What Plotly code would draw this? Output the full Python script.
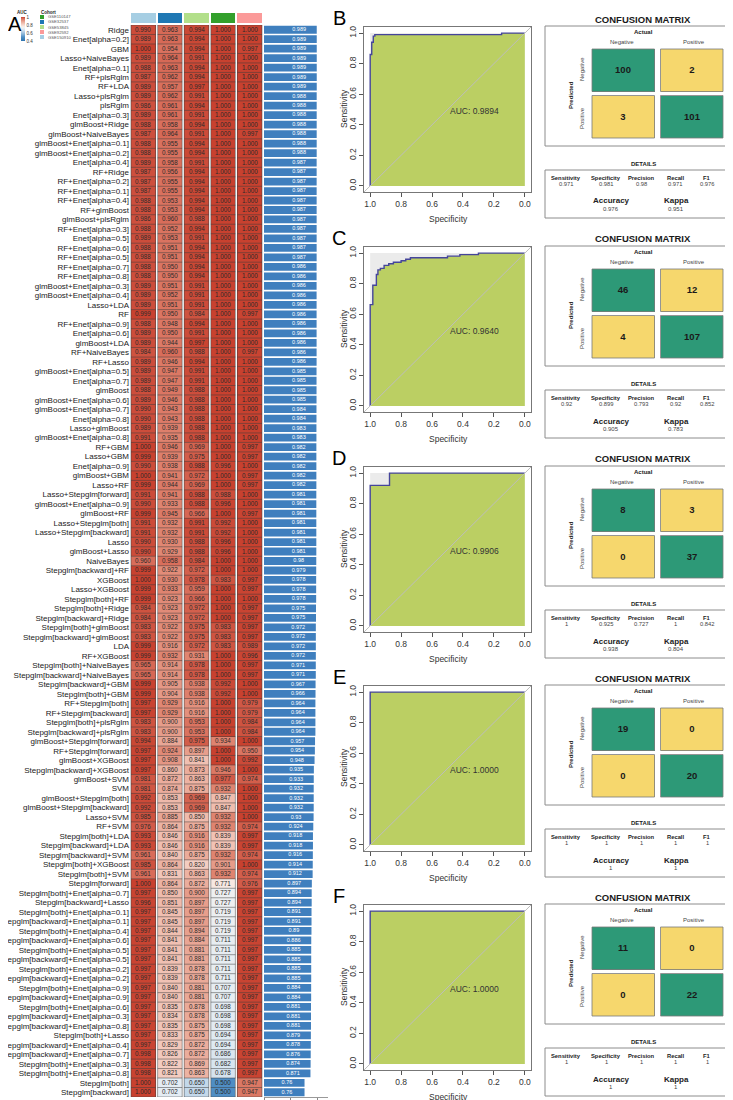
import plotly.graph_objects as go

W, H = 733, 1100


def px_x(v):
    return v / W


def px_y(v):
    return 1 - v / H


# ---------------- panel A data ----------------
cohort_order = ["GSE150910", "GSE32537", "GSE53845", "GSE110147", "GSE92592"]
cohort_colors = ["#A6CEE3", "#1F78B4", "#B2DF8A", "#33A02C", "#FB9A99"]
legend_cohorts = ["GSE110147", "GSE32537", "GSE53845", "GSE92592", "GSE150910"]

models = [
    "Ridge", "Enet[alpha=0.2]", "GBM", "Lasso+NaiveBayes", "Enet[alpha=0.1]", "RF+plsRglm", "RF+LDA", "Lasso+plsRglm", "plsRglm", "Enet[alpha=0.3]",
    "glmBoost+Ridge", "glmBoost+NaiveBayes", "glmBoost+Enet[alpha=0.1]", "glmBoost+Enet[alpha=0.2]", "Enet[alpha=0.4]", "RF+Ridge", "RF+Enet[alpha=0.2]", "RF+Enet[alpha=0.1]", "RF+Enet[alpha=0.4]", "RF+glmBoost",
    "glmBoost+plsRglm", "RF+Enet[alpha=0.3]", "Enet[alpha=0.5]", "RF+Enet[alpha=0.6]", "RF+Enet[alpha=0.5]", "RF+Enet[alpha=0.7]", "RF+Enet[alpha=0.8]", "glmBoost+Enet[alpha=0.3]", "glmBoost+Enet[alpha=0.4]", "Lasso+LDA",
    "RF", "RF+Enet[alpha=0.9]", "Enet[alpha=0.6]", "glmBoost+LDA", "RF+NaiveBayes", "RF+Lasso", "glmBoost+Enet[alpha=0.5]", "Enet[alpha=0.7]", "glmBoost", "glmBoost+Enet[alpha=0.6]",
    "glmBoost+Enet[alpha=0.7]", "Enet[alpha=0.8]", "Lasso+glmBoost", "glmBoost+Enet[alpha=0.8]", "RF+GBM", "Lasso+GBM", "Enet[alpha=0.9]", "glmBoost+GBM", "Lasso+RF", "Lasso+Stepglm[forward]",
    "glmBoost+Enet[alpha=0.9]", "glmBoost+RF", "Lasso+Stepglm[both]", "Lasso+Stepglm[backward]", "Lasso", "glmBoost+Lasso", "NaiveBayes", "Stepglm[backward]+RF", "XGBoost", "Lasso+XGBoost",
    "Stepglm[both]+RF", "Stepglm[both]+Ridge", "Stepglm[backward]+Ridge", "Stepglm[both]+glmBoost", "Stepglm[backward]+glmBoost", "LDA", "RF+XGBoost", "Stepglm[both]+NaiveBayes", "Stepglm[backward]+NaiveBayes", "Stepglm[backward]+GBM",
    "Stepglm[both]+GBM", "RF+Stepglm[both]", "RF+Stepglm[backward]", "Stepglm[both]+plsRglm", "Stepglm[backward]+plsRglm", "glmBoost+Stepglm[forward]", "RF+Stepglm[forward]", "glmBoost+XGBoost", "Stepglm[backward]+XGBoost", "glmBoost+SVM",
    "SVM", "glmBoost+Stepglm[both]", "glmBoost+Stepglm[backward]", "Lasso+SVM", "RF+SVM", "Stepglm[both]+LDA", "Stepglm[backward]+LDA", "Stepglm[backward]+SVM", "Stepglm[both]+XGBoost", "Stepglm[both]+SVM",
    "Stepglm[forward]", "Stepglm[both]+Enet[alpha=0.7]", "Stepglm[backward]+Lasso", "Stepglm[both]+Enet[alpha=0.1]", "Stepglm[backward]+Enet[alpha=0.1]", "Stepglm[both]+Enet[alpha=0.4]", "Stepglm[backward]+Enet[alpha=0.6]", "Stepglm[both]+Enet[alpha=0.5]", "Stepglm[backward]+Enet[alpha=0.5]", "Stepglm[both]+Enet[alpha=0.2]",
    "Stepglm[backward]+Enet[alpha=0.2]", "Stepglm[both]+Enet[alpha=0.9]", "Stepglm[backward]+Enet[alpha=0.9]", "Stepglm[both]+Enet[alpha=0.6]", "Stepglm[backward]+Enet[alpha=0.3]", "Stepglm[backward]+Enet[alpha=0.8]", "Stepglm[both]+Lasso", "Stepglm[backward]+Enet[alpha=0.4]", "Stepglm[backward]+Enet[alpha=0.7]", "Stepglm[both]+Enet[alpha=0.3]",
    "Stepglm[both]+Enet[alpha=0.8]", "Stepglm[both]", "Stepglm[backward]",
]

auc_gse150910 = [
    0.990, 0.989, 1.000, 0.989, 0.988, 0.987, 0.989, 0.989, 0.986, 0.989,
    0.988, 0.987, 0.988, 0.988, 0.989, 0.987, 0.987, 0.987, 0.988, 0.988,
    0.986, 0.988, 0.989, 0.988, 0.988, 0.988, 0.988, 0.989, 0.989, 0.989,
    0.999, 0.988, 0.989, 0.989, 0.984, 0.989, 0.989, 0.989, 0.988, 0.989,
    0.990, 0.990, 0.989, 0.991, 1.000, 0.999, 0.990, 1.000, 0.999, 0.991,
    0.990, 0.999, 0.991, 0.991, 0.990, 0.990, 0.960, 0.999, 1.000, 0.999,
    0.999, 0.984, 0.984, 0.983, 0.983, 0.999, 0.999, 0.965, 0.965, 0.999,
    0.999, 0.997, 0.997, 0.983, 0.983, 0.994, 0.997, 0.997, 0.997, 0.981,
    0.981, 0.992, 0.992, 0.985, 0.976, 0.993, 0.993, 0.961, 0.985, 0.961,
    1.000, 0.997, 0.996, 0.997, 0.997, 0.997, 0.997, 0.997, 0.997, 0.997,
    0.997, 0.997, 0.997, 0.997, 0.997, 0.997, 0.997, 0.997, 0.998, 0.998,
    0.998, 1.000, 1.000,
]
auc_gse32537 = [
    0.963, 0.963, 0.954, 0.964, 0.963, 0.962, 0.957, 0.962, 0.961, 0.961,
    0.958, 0.964, 0.955, 0.955, 0.958, 0.956, 0.955, 0.955, 0.953, 0.953,
    0.960, 0.952, 0.953, 0.951, 0.951, 0.950, 0.950, 0.951, 0.952, 0.951,
    0.950, 0.948, 0.950, 0.944, 0.960, 0.946, 0.947, 0.947, 0.949, 0.946,
    0.943, 0.943, 0.939, 0.935, 0.946, 0.939, 0.938, 0.941, 0.944, 0.941,
    0.933, 0.945, 0.932, 0.932, 0.930, 0.929, 0.958, 0.922, 0.930, 0.933,
    0.923, 0.923, 0.923, 0.922, 0.922, 0.916, 0.932, 0.914, 0.914, 0.905,
    0.904, 0.929, 0.929, 0.900, 0.900, 0.884, 0.924, 0.908, 0.860, 0.872,
    0.874, 0.853, 0.853, 0.885, 0.864, 0.846, 0.846, 0.840, 0.864, 0.831,
    0.864, 0.850, 0.851, 0.845, 0.845, 0.844, 0.841, 0.841, 0.841, 0.839,
    0.839, 0.840, 0.840, 0.835, 0.834, 0.835, 0.833, 0.829, 0.826, 0.822,
    0.821, 0.702, 0.702,
]
auc_gse53845 = [
    0.994, 0.994, 0.994, 0.991, 0.994, 0.994, 0.997, 0.991, 0.994, 0.991,
    0.994, 0.991, 0.994, 0.994, 0.991, 0.994, 0.994, 0.994, 0.994, 0.994,
    0.988, 0.994, 0.991, 0.994, 0.994, 0.994, 0.994, 0.991, 0.991, 0.991,
    0.984, 0.994, 0.991, 0.997, 0.988, 0.994, 0.991, 0.991, 0.988, 0.988,
    0.988, 0.988, 0.988, 0.988, 0.969, 0.975, 0.988, 0.972, 0.969, 0.988,
    0.988, 0.966, 0.991, 0.991, 0.988, 0.988, 0.984, 0.972, 0.978, 0.959,
    0.966, 0.972, 0.972, 0.975, 0.975, 0.972, 0.931, 0.978, 0.978, 0.938,
    0.938, 0.916, 0.916, 0.953, 0.953, 0.975, 0.897, 0.841, 0.873, 0.863,
    0.875, 0.969, 0.969, 0.850, 0.875, 0.916, 0.916, 0.875, 0.820, 0.863,
    0.872, 0.900, 0.897, 0.897, 0.897, 0.894, 0.884, 0.881, 0.881, 0.878,
    0.878, 0.881, 0.881, 0.878, 0.878, 0.875, 0.875, 0.872, 0.872, 0.869,
    0.863, 0.650, 0.650,
]
auc_gse110147 = [
    1.000, 1.000, 1.000, 1.000, 1.000, 1.000, 1.000, 1.000, 1.000, 1.000,
    1.000, 1.000, 1.000, 1.000, 1.000, 1.000, 1.000, 1.000, 1.000, 1.000,
    1.000, 1.000, 1.000, 1.000, 1.000, 1.000, 1.000, 1.000, 1.000, 1.000,
    1.000, 1.000, 1.000, 1.000, 1.000, 1.000, 1.000, 1.000, 1.000, 1.000,
    1.000, 1.000, 1.000, 1.000, 1.000, 1.000, 0.996, 1.000, 1.000, 0.988,
    0.996, 1.000, 0.992, 0.992, 0.996, 0.996, 1.000, 1.000, 0.983, 1.000,
    1.000, 1.000, 1.000, 0.983, 0.983, 0.983, 1.000, 1.000, 1.000, 0.992,
    0.992, 1.000, 1.000, 1.000, 1.000, 0.934, 1.000, 1.000, 0.946, 0.977,
    0.932, 0.847, 0.847, 0.932, 0.932, 0.839, 0.839, 0.932, 0.901, 0.932,
    0.771, 0.727, 0.727, 0.719, 0.719, 0.719, 0.711, 0.711, 0.711, 0.711,
    0.711, 0.707, 0.707, 0.698, 0.698, 0.698, 0.694, 0.694, 0.686, 0.682,
    0.678, 0.500, 0.500,
]
auc_gse92592 = [
    1.000, 1.000, 0.997, 1.000, 1.000, 1.000, 1.000, 1.000, 1.000, 1.000,
    1.000, 0.997, 1.000, 1.000, 1.000, 1.000, 1.000, 1.000, 1.000, 1.000,
    1.000, 1.000, 1.000, 1.000, 1.000, 1.000, 1.000, 1.000, 1.000, 1.000,
    0.997, 1.000, 1.000, 1.000, 0.997, 1.000, 1.000, 1.000, 1.000, 1.000,
    1.000, 1.000, 1.000, 1.000, 0.997, 0.997, 1.000, 0.997, 0.997, 1.000,
    1.000, 0.997, 1.000, 1.000, 1.000, 1.000, 1.000, 1.000, 0.997, 0.997,
    1.000, 0.997, 0.997, 0.997, 0.997, 0.989, 0.996, 0.997, 0.997, 1.000,
    1.000, 0.979, 0.979, 0.984, 0.984, 1.000, 0.950, 0.992, 1.000, 0.974,
    1.000, 1.000, 1.000, 1.000, 0.974, 0.997, 0.997, 0.974, 1.000, 0.974,
    0.976, 0.997, 0.997, 0.997, 0.997, 0.997, 0.997, 0.997, 0.997, 0.997,
    0.997, 0.997, 0.997, 0.997, 0.997, 0.997, 0.997, 0.997, 0.997, 0.997,
    0.997, 0.947, 0.947,
]
mean_auc = [
    0.989, 0.989, 0.989, 0.989, 0.989, 0.989, 0.989, 0.988, 0.988, 0.988,
    0.988, 0.988, 0.988, 0.988, 0.987, 0.987, 0.987, 0.987, 0.987, 0.987,
    0.987, 0.987, 0.987, 0.987, 0.987, 0.986, 0.986, 0.986, 0.986, 0.986,
    0.986, 0.986, 0.986, 0.986, 0.986, 0.986, 0.985, 0.985, 0.985, 0.985,
    0.984, 0.984, 0.983, 0.983, 0.982, 0.982, 0.982, 0.982, 0.982, 0.981,
    0.981, 0.981, 0.981, 0.981, 0.981, 0.981, 0.98, 0.979, 0.978, 0.978,
    0.978, 0.975, 0.975, 0.972, 0.972, 0.972, 0.972, 0.971, 0.971, 0.967,
    0.966, 0.964, 0.964, 0.964, 0.964, 0.957, 0.954, 0.948, 0.935, 0.933,
    0.932, 0.932, 0.932, 0.93, 0.924, 0.918, 0.918, 0.916, 0.914, 0.912,
    0.897, 0.894, 0.894, 0.891, 0.891, 0.89, 0.886, 0.885, 0.885, 0.885,
    0.885, 0.884, 0.884, 0.881, 0.881, 0.881, 0.879, 0.878, 0.876, 0.874,
    0.871, 0.76, 0.76,
]

# ---------------- panels B-F data ----------------
panel_letters = ["B", "C", "D", "E", "F"]
roc_auc = [0.9894, 0.9640, 0.9906, 1.0, 1.0]
roc_specificity = [
    [1.0, 1.0, 0.99, 0.99, 0.98, 0.98, 0.97, 0.97, 0.15, 0.15, 0.0],
    [1.0, 1.0, 0.983, 0.983, 0.96, 0.96, 0.95, 0.95, 0.934, 0.934, 0.91, 0.91, 0.88, 0.88, 0.85, 0.85,
     0.80, 0.80, 0.77, 0.77, 0.74, 0.74, 0.50, 0.50, 0.42, 0.42, 0.30, 0.30, 0.0],
    [1.0, 1.0, 0.875, 0.875, 0.0],
    [1.0, 1.0, 0.0],
    [1.0, 1.0, 0.0],
]
roc_sensitivity = [
    [0.0, 0.86, 0.86, 0.94, 0.94, 0.98, 0.98, 0.99, 0.99, 1.0, 1.0],
    [0.0, 0.663, 0.663, 0.79, 0.79, 0.86, 0.86, 0.89, 0.89, 0.90, 0.90, 0.92, 0.92, 0.93, 0.93, 0.94,
     0.94, 0.95, 0.95, 0.96, 0.96, 0.97, 0.97, 0.98, 0.98, 0.99, 0.99, 1.0, 1.0],
    [0.0, 0.92, 0.92, 1.0, 1.0],
    [0.0, 1.0, 1.0],
    [0.0, 1.0, 1.0],
]

cm_pred_neg_act_neg = [100, 46, 8, 19, 11]
cm_pred_neg_act_pos = [2, 12, 3, 0, 0]
cm_pred_pos_act_neg = [3, 4, 0, 0, 0]
cm_pred_pos_act_pos = [101, 107, 37, 20, 22]

sensitivity = [0.971, 0.92, 1, 1, 1]
specificity = [0.981, 0.899, 0.925, 1, 1]
precision = [0.98, 0.793, 0.727, 1, 1]
recall = [0.971, 0.92, 1, 1, 1]
f1_score = [0.976, 0.852, 0.842, 1, 1]
accuracy = [0.976, 0.905, 0.938, 1, 1]
kappa = [0.951, 0.783, 0.804, 1, 1]

panel_offsets = [0, 220, 440, 659, 878]

FONT = "Liberation Sans, Arial, sans-serif"
GREEN_CELL = "#2D9977"
YELLOW_CELL = "#F6D76D"

# AUC colour ramp (zmin 0.4, zmax 1)
auc_stops = [(0.4, "#2E74B0"), (0.5, "#4F8EC4"), (0.55, "#78AAD3"), (0.65, "#C3D8EA"),
             (0.70, "#E3ECF3"), (0.75, "#F7F2EF"), (0.80, "#F6D9CF"), (0.85, "#EFBBAC"),
             (0.90, "#E69C8A"), (0.93, "#E08672"), (0.96, "#D86D5A"), (1.0, "#C8412F")]
auc_scale = [[(v - 0.4) / 0.6, c] for v, c in auc_stops]

fig = go.Figure()
annotations = []
shapes = []
axes = {}


def label(text, x, y, size, color="#222", angle=0, xanchor="center", yanchor="middle"):
    # x, y in page pixels
    annotations.append(dict(text=text, x=px_x(x), y=px_y(y), xref="paper", yref="paper",
                            xanchor=xanchor, yanchor=yanchor, showarrow=False, textangle=angle,
                            font=dict(size=size, color=color, family=FONT)))


n = len(models)
rows = list(range(n))
cols = list(range(len(cohort_order)))
z = [list(r) for r in zip(auc_gse150910, auc_gse32537, auc_gse53845, auc_gse110147, auc_gse92592)]

fig.add_trace(go.Heatmap(
    z=z, x=cols, y=rows, colorscale=auc_scale, zmin=0.4, zmax=1.0,
    xgap=2, ygap=0, texttemplate="%{z:.3f}",
    textfont=dict(size=6.3, color="#2b2b2b", family=FONT), hoverinfo="skip",
    colorbar=dict(x=px_x(13), xanchor="left", y=px_y(21), yanchor="middle",
                  lenmode="pixels", len=24, thicknessmode="pixels", thickness=4,
                  tickvals=[0.4, 0.6, 0.8, 1.0], ticktext=["0.4", "0.6", "0.8", "1"],
                  tickfont=dict(size=4.5, color="#333"), ticks="", outlinewidth=0,
                  xpad=0, ypad=0),
    xaxis="x", yaxis="y"))

# cell borders
hw = 0.5 - 1.0 / 26.6
bx, by = [], []
for c in cols:
    for edge in (c - hw, c + hw):
        bx += [edge, edge, None]
        by += [-0.5, n - 0.5, None]
    for k in range(n + 1):
        bx += [c - hw, c + hw, None]
        by += [k - 0.5, k - 0.5, None]
fig.add_trace(go.Scatter(x=bx, y=by, mode="lines", line=dict(color="#3c3c3c", width=0.5),
                         hoverinfo="skip", xaxis="x", yaxis="y"))

# cohort annotation bar
fig.add_trace(go.Heatmap(
    z=[cols], x=cols, y=[0], zmin=0, zmax=len(cols) - 1,
    colorscale=[[i / (len(cols) - 1), col] for i, col in enumerate(cohort_colors)],
    showscale=False, xgap=2, hoverinfo="skip", xaxis="x", yaxis="y2"))

# mean AUC bars
fig.add_trace(go.Bar(x=mean_auc, y=rows, orientation="h", width=0.82,
                     marker=dict(color="#3F7FBE", line=dict(width=0)),
                     hoverinfo="skip", xaxis="x3", yaxis="y3"))
fig.add_trace(go.Scatter(x=[v - 0.33 for v in mean_auc], y=rows, mode="text",
                         text=[f"{v:g}" for v in mean_auc],
                         textfont=dict(size=5.5, color="white", family=FONT),
                         hoverinfo="skip", xaxis="x3", yaxis="y3"))

axes["xaxis"] = dict(domain=[px_x(122), px_x(255)], range=[-0.5, 4.5], anchor="y",
                     showticklabels=False, showgrid=False, zeroline=False, ticks="")
axes["yaxis"] = dict(domain=[px_y(1089), px_y(17)], range=[n - 0.5, -0.5], anchor="x",
                     tickvals=rows, ticktext=models, ticks="", showgrid=False, zeroline=False,
                     tickfont=dict(size=8, color="#1a1a1a", family=FONT), automargin=False)
axes["yaxis2"] = dict(domain=[px_y(15), px_y(5)], range=[-0.5, 0.5], anchor="x",
                      showticklabels=False, showgrid=False, zeroline=False, ticks="")
axes["xaxis3"] = dict(domain=[px_x(256), px_x(320)], range=[0, 1.2], anchor="y3",
                      tickvals=[0, 0.5, 1], ticktext=["0", "0.5", "1"], ticks="outside",
                      ticklen=2, tickwidth=0.5, tickcolor="#888", showline=True, linecolor="#999",
                      linewidth=0.6, showgrid=False, zeroline=False,
                      tickfont=dict(size=5.5, color="#444"), automargin=False)
axes["yaxis3"] = dict(domain=[px_y(1089), px_y(17)], range=[n - 0.5, -0.5], anchor="x3",
                      showticklabels=False, showgrid=False, zeroline=False, ticks="")

label("A", 7, 16, 20, "black")
label("<b>AUC</b>", 14, 4, 4.5, "#222")
label("<b>Cohort</b>", 31, 4, 4.5, "#222", xanchor="left")
for k, name in enumerate(legend_cohorts):
    yc = 9 + 5 * k
    shapes.append(dict(type="rect", xref="paper", yref="paper", x0=px_x(32), x1=px_x(36),
                       y0=px_y(yc + 2), y1=px_y(yc - 2), line=dict(width=0),
                       fillcolor=cohort_colors[cohort_order.index(name)]))
    label(name, 38, yc, 4.2, "#555", xanchor="left")

# ---------------- panels B-F ----------------
metric_x = [558, 598, 633, 667, 699]
metric_names = ["Sensitivity", "Specificity", "Precision", "Recall", "F1"]

for i, off in enumerate(panel_offsets):
    ra = 4 + i
    ca = 9 + i
    xr, yr = f"x{ra}", f"y{ra}"
    axis_common = dict(ticks="outside", ticklen=4, tickcolor="#555", showline=True, mirror=True,
                       linecolor="#777", linewidth=0.8, showgrid=False, zeroline=False,
                       tickfont=dict(size=8.5, color="#333", family=FONT), automargin=False)
    axes[f"xaxis{ra}"] = dict(domain=[px_x(356), px_x(523)], range=[1.04, -0.04], anchor=yr,
                              tickvals=[1.0, 0.8, 0.6, 0.4, 0.2, 0.0],
                              ticktext=["1.0", "0.8", "0.6", "0.4", "0.2", "0.0"], **axis_common)
    axes[f"yaxis{ra}"] = dict(domain=[px_y(184 + off), px_y(19 + off)], range=[-0.04, 1.04], anchor=xr,
                              tickvals=[0.0, 0.2, 0.4, 0.6, 0.8, 1.0], tickangle=-90,
                              ticktext=["0.0", "0.2", "0.4", "0.6", "0.8", "1.0"], **axis_common)
    shapes.append(dict(type="rect", xref=xr, yref=yr, x0=0, x1=1, y0=0, y1=1,
                       fillcolor="#EBEBEB", line=dict(width=0), layer="below"))
    fig.add_trace(go.Scatter(x=roc_specificity[i], y=roc_sensitivity[i], mode="lines",
                             line=dict(color="#45459B", width=1.4), fill="tozeroy",
                             fillcolor="#BBCF63", hoverinfo="skip", xaxis=xr, yaxis=yr))
    shapes.append(dict(type="line", xref=xr, yref=yr, x0=1.04, y0=-0.04, x1=-0.04, y1=1.04,
                       line=dict(color="#BDBDBD", width=1), layer="above"))
    annotations.append(dict(text=f"AUC: {roc_auc[i]:.4f}", x=0.5, y=0.49, xref=xr, yref=yr,
                            xanchor="left", yanchor="middle", showarrow=False,
                            font=dict(size=8.5, color="#333", family=FONT)))
    label("Specificity", 440, 211 + off, 8.5, "#333")
    label("Sensitivity", 336, 101 + off, 8.5, "#333", angle=-90)
    label(panel_letters[i], 331, 10 + off, 20, "black")

    # confusion matrix
    xc, yc = f"x{ca}", f"y{ca}"
    axes[f"xaxis{ca}"] = dict(domain=[px_x(581), px_x(718)], range=[-0.5, 1.5], anchor=yc, visible=False)
    axes[f"yaxis{ca}"] = dict(domain=[px_y(132 + off), px_y(39 + off)], range=[1.5, -0.5], anchor=xc,
                              visible=False)
    counts = [[cm_pred_neg_act_neg[i], cm_pred_neg_act_pos[i]],
              [cm_pred_pos_act_neg[i], cm_pred_pos_act_pos[i]]]
    correct = [[1 if r == c else 0 for c in range(2)] for r in range(2)]
    fig.add_trace(go.Heatmap(z=correct, x=[0, 1], y=[0, 1], text=counts, zmin=0, zmax=1,
                             colorscale=[[0, YELLOW_CELL], [1, GREEN_CELL]], showscale=False,
                             xgap=6, ygap=4, texttemplate="<b>%{text}</b>",
                             textfont=dict(size=9.5, color="#1a1a1a", family=FONT),
                             hoverinfo="skip", xaxis=xc, yaxis=yc))
    hx, hy = 0.5 - 3 / 68.5, 0.5 - 2 / 46.5
    ox, oy = [], []
    for r in range(2):
        for c in range(2):
            ox += [c - hx, c + hx, c + hx, c - hx, c - hx, None]
            oy += [r - hy, r - hy, r + hy, r + hy, r - hy, None]
    fig.add_trace(go.Scatter(x=ox, y=oy, mode="lines", line=dict(color="#7a7a7a", width=0.8),
                             hoverinfo="skip", xaxis=xc, yaxis=yc))

    shapes.append(dict(type="rect", xref="paper", yref="paper", x0=px_x(537), x1=px_x(730),
                       y0=px_y(138 + off), y1=px_y(18 + off), line=dict(color="#8c8c8c", width=1)))
    shapes.append(dict(type="rect", xref="paper", yref="paper", x0=px_x(537), x1=px_x(730),
                       y0=px_y(210 + off), y1=px_y(162 + off), line=dict(color="#8c8c8c", width=1)))

    label("<b>CONFUSION MATRIX</b>", 635, 11 + off, 9.5, "#1a1a1a")
    label("<b>Actual</b>", 635, 24 + off, 6, "#222")
    label("Negative", 614, 34 + off, 6, "#444")
    label("Positive", 686, 34 + off, 6, "#444")
    label("Negative", 574, 61 + off, 6, "#444", angle=-90)
    label("Positive", 574, 110 + off, 6, "#444", angle=-90)
    label("<b>Predicted</b>", 563, 87 + off, 6, "#222", angle=-90)
    label("<b>DETAILS</b>", 635, 156 + off, 6, "#222")
    metric_vals = [sensitivity[i], specificity[i], precision[i], recall[i], f1_score[i]]
    for mx, mn, mv in zip(metric_x, metric_names, metric_vals):
        label(f"<b>{mn}</b>", mx, 170 + off, 5.8, "#222")
        label(f"{mv:g}", mx, 176 + off, 5.8, "#444")
    label("<b>Accuracy</b>", 603, 193 + off, 8, "#222")
    label(f"{accuracy[i]:g}", 603, 201 + off, 6, "#444")
    label("<b>Kappa</b>", 668, 193 + off, 8, "#222")
    label(f"{kappa[i]:g}", 668, 201 + off, 6, "#444")

fig.update_layout(
    width=W, height=H, margin=dict(l=0, r=0, t=0, b=0),
    paper_bgcolor="white", plot_bgcolor="white", showlegend=False,
    font=dict(family=FONT), annotations=annotations, shapes=shapes, **axes)

fig.write_html("out.html")
